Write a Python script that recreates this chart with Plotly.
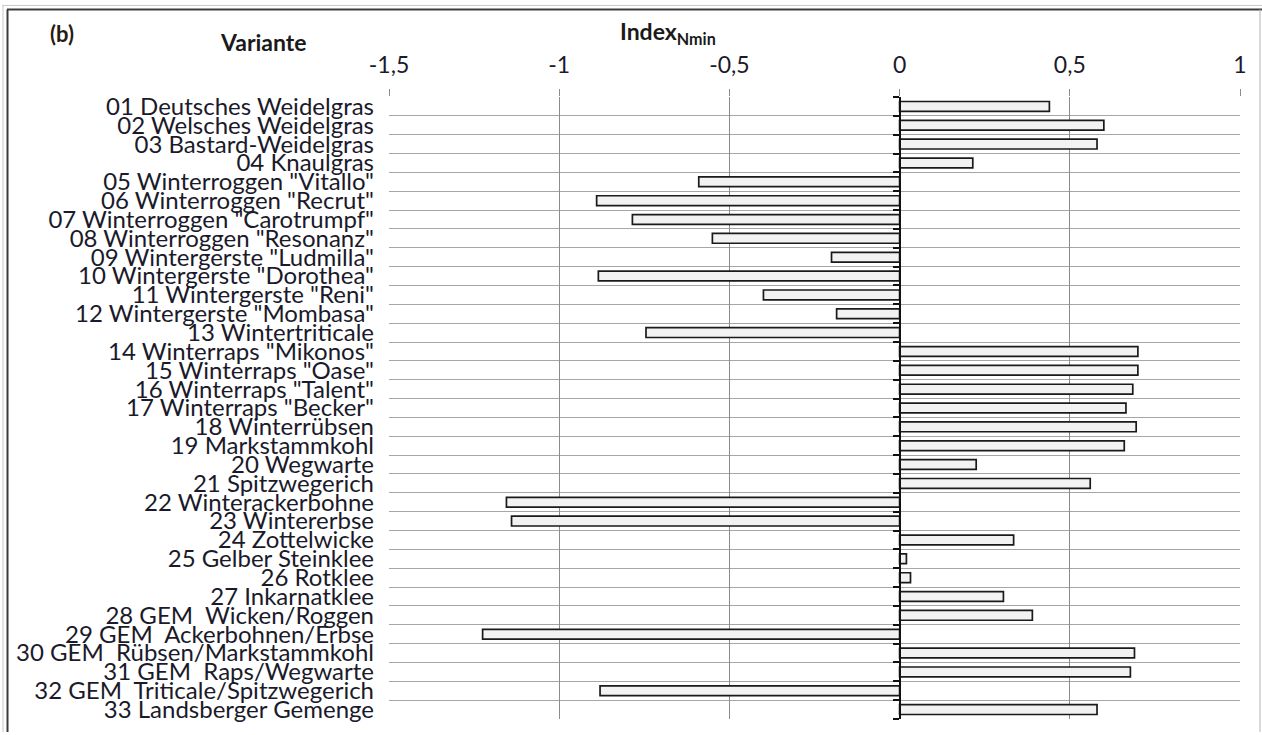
import plotly.graph_objects as go

categories = [
    '01 Deutsches Weidelgras', '02 Welsches Weidelgras', '03 Bastard-Weidelgras',
    '04 Knaulgras', '05 Winterroggen "Vitallo"', '06 Winterroggen "Recrut"',
    '07 Winterroggen "Carotrumpf"', '08 Winterroggen "Resonanz"',
    '09 Wintergerste "Ludmilla"', '10 Wintergerste "Dorothea"',
    '11 Wintergerste "Reni"', '12 Wintergerste "Mombasa"', '13 Wintertriticale',
    '14 Winterraps "Mikonos"', '15 Winterraps "Oase"', '16 Winterraps "Talent"',
    '17 Winterraps "Becker"', '18 Winterrübsen', '19 Markstammkohl',
    '20 Wegwarte', '21 Spitzwegerich', '22 Winterackerbohne', '23 Wintererbse',
    '24 Zottelwicke', '25 Gelber Steinklee', '26 Rotklee', '27 Inkarnatklee',
    '28 GEM  Wicken/Roggen', '29 GEM  Ackerbohnen/Erbse',
    '30 GEM  Rübsen/Markstammkohl', '31 GEM  Raps/Wegwarte',
    '32 GEM  Triticale/Spitzwegerich', '33 Landsberger Gemenge',
]
index_nmin = [
    0.44, 0.60, 0.58, 0.215, -0.59, -0.89, -0.785, -0.55, -0.20, -0.885,
    -0.40, -0.185, -0.745, 0.70, 0.70, 0.685, 0.665, 0.695, 0.66, 0.225,
    0.56, -1.155, -1.14, 0.335, 0.02, 0.032, 0.305, 0.39, -1.225, 0.69,
    0.678, -0.88, 0.58,
]
x_tickvals = [-1.5, -1, -0.5, 0, 0.5, 1]
x_ticktext = ['-1,5', '-1', '-0,5', '0', '0,5', '1']

W_FIG, H_FIG = 1262, 735
L, R, T, B = 389, 1240, 97, 722


def px(x):
    return (x - L) / (R - L)


def py(y):
    return (B - y) / (B - T)


n = len(categories)
pos = list(range(n))
bounds = [i - 0.5 for i in range(n + 1)]
FONT = "Lato"
TXT = '#1a1a2a'

fig = go.Figure()
fig.add_trace(go.Bar(
    x=index_nmin, y=pos, orientation='h',
    marker=dict(color='#f2f2f2', line=dict(color='#1a1a1a', width=1.7)),
    width=0.52, showlegend=False,
))
# invisible companion trace so the zero-crossing axis (y2) is drawn
fig.add_trace(go.Scatter(
    x=index_nmin, y=pos, yaxis='y2', mode='markers',
    marker=dict(opacity=0), hoverinfo='skip', showlegend=False,
))

fig.update_layout(
    width=W_FIG, height=H_FIG,
    margin=dict(l=L, r=W_FIG - R, t=T, b=H_FIG - B),
    paper_bgcolor='white', plot_bgcolor='white',
    font=dict(family=FONT, color=TXT),
    xaxis=dict(
        side='top', range=[-1.5, 1], tickvals=x_tickvals, ticktext=x_ticktext,
        showgrid=True, gridcolor='#8c8c8c', gridwidth=1,
        ticks='outside', ticklen=7, tickcolor='#8c8c8c', tickwidth=1,
        tickfont=dict(size=23, family=FONT, color=TXT),
        ticklabelstandoff=7, zeroline=False, showline=False,
    ),
    yaxis=dict(
        range=[n - 0.5, -0.5], tickvals=pos, ticktext=categories,
        showgrid=False, zeroline=False, showline=False, ticks='',
        tickfont=dict(size=24, family=FONT, color=TXT),
        ticklabelstandoff=14,
        minor=dict(tickvals=bounds, showgrid=True, gridcolor='#a6a6a6',
                   gridwidth=1),
    ),
    yaxis2=dict(
        overlaying='y', anchor='free', position=0.6,
        side='left', range=[n - 0.5, -0.5], tickvals=bounds,
        showticklabels=False, ticks='outside', ticklen=6, tickwidth=1.5,
        tickcolor='#111111', showline=True, linecolor='#111111', linewidth=1.5,
        showgrid=False, zeroline=False,
    ),
    bargap=0.45,
)

fig.add_annotation(x=px(62), y=py(33), xref='paper', yref='paper',
                   xanchor='center', yanchor='middle',
                   text='<b>(b)</b>', showarrow=False,
                   font=dict(size=22, family=FONT, color='#2a1a10'))
fig.add_annotation(x=px(263), y=py(42), xref='paper', yref='paper',
                   xanchor='center', yanchor='middle',
                   text='<b>Variante</b>', showarrow=False,
                   font=dict(size=23, family=FONT, color='#1a1a1a'))
fig.add_annotation(x=px(668), y=py(32), xref='paper', yref='paper',
                   xanchor='center', yanchor='middle',
                   text='<b>Index<sub>Nmin</sub></b>', showarrow=False,
                   font=dict(size=23, family=FONT, color='#1a1a1a'))

# outer frame of the figure
fig.add_shape(type='line', xref='paper', yref='paper',
              x0=px(2), x1=px(1262), y0=py(5), y1=py(5),
              line=dict(color='#c8c8c8', width=1))
fig.add_shape(type='line', xref='paper', yref='paper',
              x0=px(7), x1=px(1262), y0=py(9), y1=py(9),
              line=dict(color='#3c3c3c', width=2))
fig.add_shape(type='line', xref='paper', yref='paper',
              x0=px(3), x1=px(3), y0=py(5), y1=py(735),
              line=dict(color='#c8c8c8', width=1))
fig.add_shape(type='line', xref='paper', yref='paper',
              x0=px(7.5), x1=px(7.5), y0=py(9), y1=py(735),
              line=dict(color='#3c3c3c', width=2))
fig.add_shape(type='line', xref='paper', yref='paper',
              x0=px(1260), x1=px(1260), y0=py(9), y1=py(735),
              line=dict(color='#b4b4b4', width=1))

fig.write_html("out.html",
               config=dict(displayModeBar=False),
               post_script="document.body.style.margin='0px';"
                           "document.body.style.overflow='hidden';")
